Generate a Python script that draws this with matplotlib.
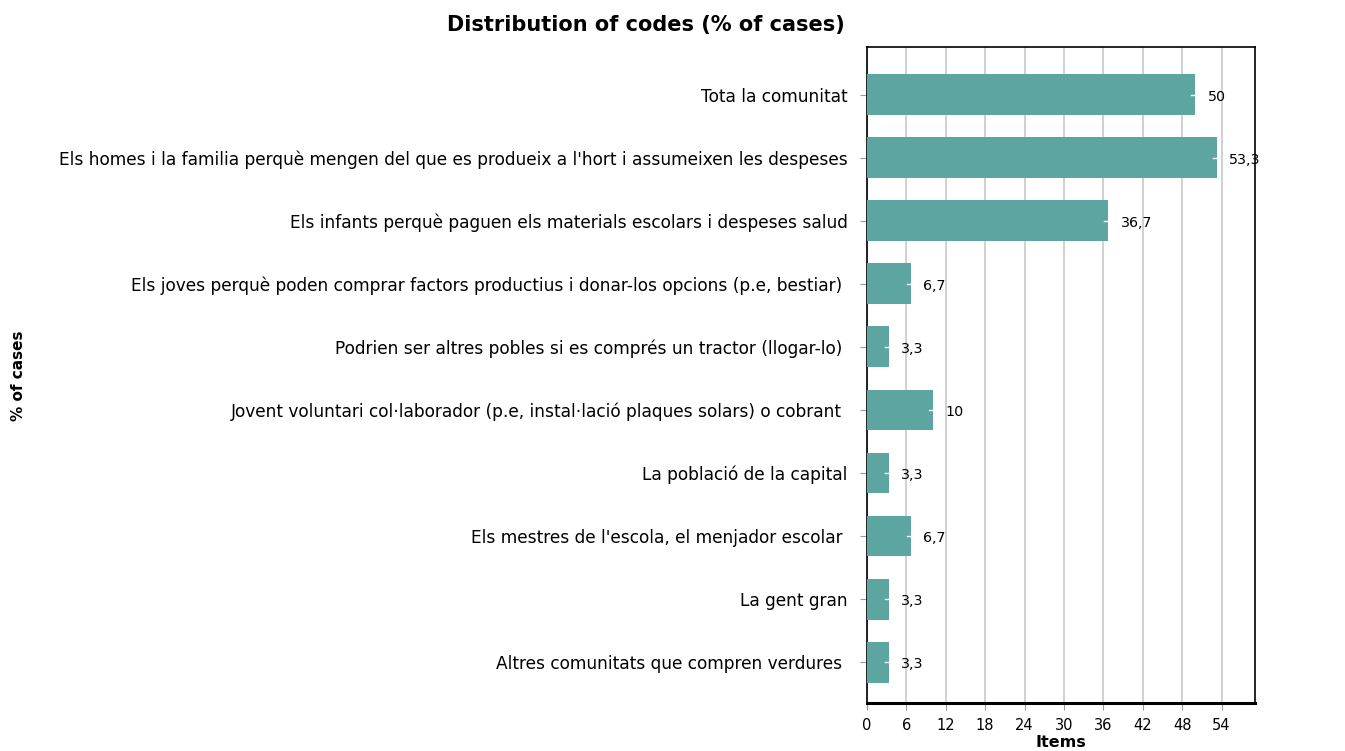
import matplotlib
matplotlib.use("Agg")
import matplotlib.pyplot as plt

categories = [
    "Tota la comunitat",
    "Els homes i la familia perquè mengen del que es produeix a l'hort i assumeixen les despeses",
    "Els infants perquè paguen els materials escolars i despeses salud",
    "Els joves perquè poden comprar factors productius i donar-los opcions (p.e, bestiar) ",
    "Podrien ser altres pobles si es comprés un tractor (llogar-lo) ",
    "Jovent voluntari col·laborador (p.e, instal·lació plaques solars) o cobrant ",
    "La població de la capital",
    "Els mestres de l'escola, el menjador escolar ",
    "La gent gran",
    "Altres comunitats que compren verdures ",
]
values = [50, 53.3, 36.7, 6.7, 3.3, 10, 3.3, 6.7, 3.3, 3.3]
xticks = [0, 6, 12, 18, 24, 30, 36, 42, 48, 54]

plt.rcParams['font.family'] = ['DejaVu Sans']
fig = plt.figure(figsize=(13.45, 7.51), dpi=100)
ax = fig.add_axes([0.6446, 0.0639, 0.2885, 0.8735])

y = list(range(len(categories)))
ax.barh(y, values, height=0.65, color='#5DA5A0', zorder=3)
for yi, v in zip(y, values):
    ax.plot([v - 0.6, v], [yi, yi], color='white', lw=1, zorder=4)
    ax.text(v + 1.9, yi + 0.03, f"{v:g}".replace('.', ','), va='center', ha='left',
            fontsize=10.3, color='black', zorder=5)

ax.set_ylim(len(categories) - 1 + 0.65, -0.76)
ax.set_xlim(0, 59.1)
ax.set_yticks(y)
ax.set_yticklabels(categories, fontsize=12.25)
ax.set_xticks(xticks)
ax.set_xticklabels([str(t) for t in xticks], fontsize=10.5)
ax.xaxis.grid(True, color='#c8c8c8', lw=1.2, zorder=0)
ax.tick_params(axis='y', length=5, color='#999999', pad=9)
ax.tick_params(axis='x', length=5, color='#999999', pad=6)
for s in ['top', 'right', 'left']:
    ax.spines[s].set_linewidth(1.2)
    ax.spines[s].set_color('black')
ax.spines['bottom'].set_linewidth(2.2)
ax.spines['bottom'].set_color('black')

ax.set_xlabel('Items', fontsize=11.5, fontweight='bold', labelpad=1)
fig.text(0.0135, 0.5, '% of cases', rotation=90, fontsize=11, fontweight='bold',
         va='center', ha='center')
fig.text(0.48, 0.967, 'Distribution of codes (% of cases)', fontsize=15,
         fontweight='bold', ha='center', va='center')

fig.savefig('out.png', dpi=100)
